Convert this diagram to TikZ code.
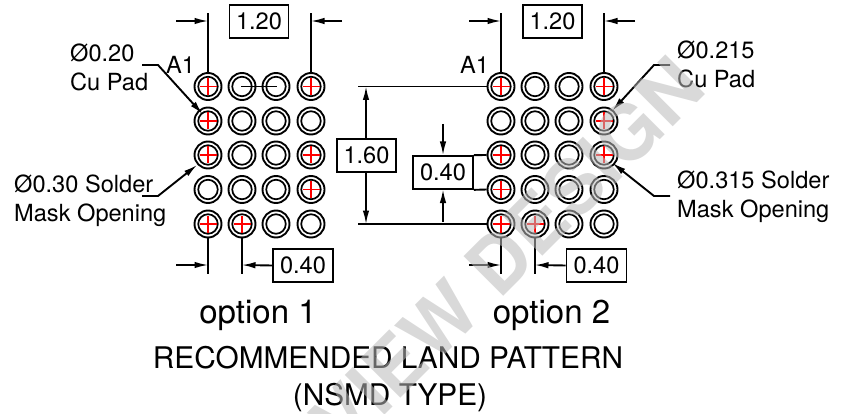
\documentclass[tikz,border=0pt]{standalone}
\usepackage{fontspec}
\setmainfont{TeX Gyre Heros}
\usetikzlibrary{arrows.meta}
\tikzset{
  x=1pt,y=-1pt,
  dim/.style={line width=1.9pt,black},
  arr/.style={dim,-{Latex[length=14pt,width=6.5pt]},shorten >=-0.5pt},
  padout/.style={circle,draw=black,line width=1.9pt,minimum size=27pt,inner sep=0pt},
  padin/.style={circle,draw=black,line width=1.7pt,minimum size=19.5pt,inner sep=0pt},
  redx/.style={red,line width=1.6pt},
  dimbox/.style={draw=black,line width=1.7pt,inner sep=0pt,font=\fontsize{23.6}{28}\selectfont,minimum height=33pt},
  lab/.style={anchor=base west,inner sep=0pt,font=\fontsize{23.6}{28}\selectfont},
  opt/.style={anchor=base,inner sep=0pt,font=\fontsize{33}{38}\selectfont},
  ttl/.style={anchor=base,inner sep=0pt,font=\fontsize{29.8}{34}\selectfont},
  wmark/.style={anchor=center,inner sep=0pt,text=black!27,opacity=.55,rotate=45,font=\fontsize{77}{82}\selectfont\bfseries}
}
\begin{document}
\begin{tikzpicture}
\useasboundingbox (0,0) rectangle (845,414);
% pads
\foreach \g/\xa/\xb/\xc/\xd in {L/208/242/276/311,R/501/535/569/604}{
  \foreach \c/\px in {1/\xa,2/\xb,3/\xc,4/\xd}{
    \foreach \r/\py in {1/86.5,2/121,3/155,4/189.5,5/224}{
      \node[padout] (\g\r\c) at (\px,\py) {};
      \node[padin] (\g\r\c i) at (\px,\py) {};
    }
  }
}
% red crosses
\foreach \n in {L11,L14,L21,L31,L34,L44,L51,L52,R11,R14,R24,R31,R34,R41,R51,R52}{
  \draw[redx] ([xshift=-8.5pt]\n.center) -- ([xshift=8.5pt]\n.center);
  \draw[redx] ([yshift=-8.5pt]\n.center) -- ([yshift=8.5pt]\n.center);
}
% dimension boxes
\node[dimbox,minimum width=59pt] (bA) at (259,21.5) {1.20};
\node[dimbox,minimum width=59pt] (bB) at (552.5,21.5) {1.20};
\node[dimbox,minimum width=60pt] (bC) at (303,265.5) {0.40};
\node[dimbox,minimum width=60pt] (bD) at (596.5,265.5) {0.40};
\node[dimbox,minimum width=59pt] (bE) at (366.5,155.5) {1.60};
\node[dimbox,minimum width=60pt] (bF) at (443,172.5) {0.40};
% free ends
\foreach \n/\x/\y in {
 a1/208/13.5,a2/311/13.5,a3/176/21,a4/208/21,a5/342/21,a6/311/21,
 b1/501/13.5,b2/604/13.5,b3/469/21,b4/501/21,b5/635/21,b6/604/21,
 c1/208/273.5,c2/242/273.5,c3/176/265,c4/208/265,c5/242/265,
 d1/501/273.5,d2/535/273.5,d3/469/265,d4/501/265,d5/535/265,
 e1/358/86.5,e2/358/224,e3/366/86.5,e4/366/224,
 f1/443/124,f2/443/155,f3/443/222,f4/443/189.5,
 g1/142/65,g2/158/65,g3/202.5/114,
 h1/142/196,h2/158/196,h3/197/165,
 i1/670/65,i2/654/65,i3/612.5/110.5,
 j1/670/196,j2/654/196,j3/612.5/163,
 k1/241/86.5,k2/277/86.5}{
  \coordinate (\n) at (\x,\y);
}
% extension lines
\draw[dim] (a1) -- (L11.north);
\draw[dim] (a2) -- (L14.north);
\draw[dim] (b1) -- (R11.north);
\draw[dim] (b2) -- (R14.north);
\draw[dim] (c1) -- (L51.south);
\draw[dim] (c2) -- (L52.south);
\draw[dim] (d1) -- (R51.south);
\draw[dim] (d2) -- (R52.south);
\draw[dim] (e1) -- (R11.west);
\draw[dim] (e2) -- (R51.west);
\draw[dim] (bF.north east) -- (R31.west);
\draw[dim] (bF.south east) -- (R41.west);
\draw[dim] (k1) -- (k2);
% dimension arrows
\draw[arr] (a3) -- (a4);
\draw[arr] (a5) -- (a6);
\draw[arr] (b3) -- (b4);
\draw[arr] (b5) -- (b6);
\draw[arr] (c3) -- (c4);
\draw[arr] (bC.west) -- (c5);
\draw[arr] (d3) -- (d4);
\draw[arr] (bD.west) -- (d5);
\draw[arr] (bE.north -| e3) -- (e3);
\draw[arr] (bE.south -| e4) -- (e4);
\draw[arr] (f1) -- (f2);
\draw[arr] (f3) -- (f4);
% leaders
\draw[arr] (g1) -- (g2) -- (g3);
\draw[arr] (h1) -- (h2) -- (h3);
\draw[arr] (i1) -- (i2) -- (i3);
\draw[arr] (j1) -- (j2) -- (j3);
% labels
\node[lab] (t1) at (70,62) {Ø0.20};
\node[lab] (t2) at (70,91) {Cu Pad};
\node[lab] (t3) at (166,74) {A1};
\node[lab] (t4) at (14,192) {Ø0.30 Solder};
\node[lab] (t5) at (14,221) {Mask Opening};
\node[lab] (t6) at (460,74) {A1};
\node[lab] (t7) at (677,59) {Ø0.215};
\node[lab] (t8) at (677,88) {Cu Pad};
\node[lab] (t9) at (677,188) {Ø0.315 Solder};
\node[lab] (t10) at (677,217) {Mask Opening};
\node[opt] (o1) at (258,323) {option 1};
\node[opt] (o2) at (551.5,323) {option 2};
\node[ttl] (r1) at (388,368) {RECOMMENDED LAND PATTERN};
\node[ttl] (r2) at (390,405) {(NSMD TYPE)};
% watermark
\begin{scope}
\clip (0,0) rectangle (845,414);
\node[wmark] (wm) at (451,309) {PREVIEW DESIGN};
\end{scope}
\end{tikzpicture}
\end{document}
